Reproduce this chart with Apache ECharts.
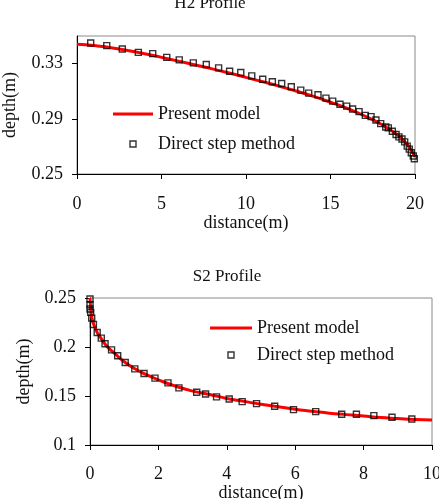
<!DOCTYPE html>
<html>
<head>
<meta charset="utf-8">
<script src="https://cdn.jsdelivr.net/npm/echarts@6/dist/echarts.min.js"></script>
<style>
html,body{margin:0;padding:0;background:#fff;}
#c{width:439px;height:499px;}
</style>
</head>
<body>
<div id="c"></div>
<script>
// ---- H2 profile data ----
const h2ModelX = [0, 1, 2, 3, 4, 5, 6, 7, 8, 9, 10, 11, 12, 13, 14, 15, 16, 17, 18, 19, 19.5, 20];
const h2ModelY = [0.344, 0.3432, 0.3415, 0.3395, 0.3372, 0.3345, 0.3318, 0.329, 0.3262, 0.3232, 0.32, 0.3168, 0.3135, 0.31, 0.3062, 0.302, 0.2975, 0.2922, 0.286, 0.278, 0.272, 0.2625];
const h2StepX = [0.81, 1.76, 2.68, 3.63, 4.48, 5.31, 6.05, 6.88, 7.65, 8.38, 9.03, 9.69, 10.34, 10.99, 11.56, 12.11, 12.68, 13.24, 13.71, 14.26, 14.73, 15.13, 15.56, 15.96, 16.31, 16.69, 17.06, 17.4, 17.69, 17.97, 18.27, 18.42, 18.66, 18.88, 19.05, 19.23, 19.39, 19.54, 19.66, 19.78, 19.9, 19.96];
const h2StepY = [0.3449, 0.343, 0.3406, 0.3381, 0.3372, 0.3345, 0.3327, 0.3305, 0.3293, 0.3269, 0.3245, 0.3235, 0.3211, 0.3187, 0.3168, 0.3156, 0.3132, 0.3108, 0.3086, 0.3074, 0.305, 0.3028, 0.3005, 0.2992, 0.2971, 0.2952, 0.2925, 0.2916, 0.2891, 0.2865, 0.2841, 0.2834, 0.281, 0.2786, 0.2769, 0.2754, 0.2733, 0.2702, 0.268, 0.2654, 0.263, 0.261];
const h2XTicks = [0, 5, 10, 15, 20];
const h2YTicks = [0.25, 0.29, 0.33];

// ---- S2 profile data ----
const s2ModelX = [0, 0.02, 0.05, 0.1, 0.2, 0.3, 0.45, 0.6, 0.8, 1.0, 1.3, 1.6, 2.0, 2.5, 3, 3.5, 4, 4.5, 5, 5.5, 6, 6.5, 7, 7.5, 8, 8.5, 9, 9.5, 10];
const s2ModelY = [0.25, 0.24, 0.231, 0.224, 0.2155, 0.21, 0.2025, 0.197, 0.191, 0.185, 0.178, 0.1725, 0.1665, 0.16, 0.155, 0.1515, 0.1475, 0.1445, 0.1415, 0.139, 0.1365, 0.1345, 0.1325, 0.131, 0.1295, 0.128, 0.127, 0.126, 0.1255];
const s2StepX = [0, 0, 0, 0.02, 0.05, 0.1, 0.21, 0.33, 0.44, 0.63, 0.81, 1.03, 1.31, 1.58, 1.9, 2.28, 2.6, 3.12, 3.38, 3.7, 4.07, 4.45, 4.87, 5.4, 5.95, 6.6, 7.36, 7.79, 8.3, 8.83, 9.41];
const s2StepY = [0.249, 0.2431, 0.2387, 0.2353, 0.2295, 0.223, 0.2148, 0.2091, 0.2033, 0.1971, 0.191, 0.1842, 0.1777, 0.1729, 0.1682, 0.1634, 0.1583, 0.1539, 0.1521, 0.1491, 0.147, 0.1443, 0.1422, 0.1396, 0.1361, 0.1341, 0.1314, 0.1314, 0.13, 0.1283, 0.1266];
const s2XTicks = [0, 2, 4, 6, 8, 10];
const s2YTicks = [0.1, 0.15, 0.2, 0.25];

const titles = ['H2 Profile', 'S2 Profile'];
const seriesNames = ['Present model', 'Direct step method'];

const zip = (xs, ys) => xs.map((x, i) => [x, ys[i]]);

const FONT = '"Liberation Serif", "Times New Roman", serif';
const TXT = '#111';
const RED = '#ff0000';
const FS = 18;

function xAxis(gridIndex, min, max, ticks, margin, nameGap) {
  return {
    type: 'value', gridIndex, min, max,
    name: 'distance(m)', nameLocation: 'middle', nameGap,
    nameTextStyle: { fontFamily: FONT, fontSize: FS, color: TXT },
    axisLine: { show: true, lineStyle: { color: '#000', width: 1 } },
    axisTick: { show: true, inside: false, length: 5, customValues: ticks, lineStyle: { color: '#000' } },
    axisLabel: { customValues: ticks, margin, fontFamily: FONT, fontSize: FS, color: TXT },
    splitLine: { show: false }
  };
}
function yAxis(gridIndex, min, max, ticks, margin, nameGap, fmt) {
  return {
    type: 'value', gridIndex, min, max,
    name: 'depth(m)', nameLocation: 'middle', nameGap,
    nameTextStyle: { fontFamily: FONT, fontSize: FS, color: TXT },
    axisLine: { show: true, lineStyle: { color: '#000', width: 1 } },
    axisTick: { show: true, inside: false, length: 5, customValues: ticks, lineStyle: { color: '#000' } },
    axisLabel: { customValues: ticks, margin, fontFamily: FONT, fontSize: FS, color: TXT, formatter: fmt },
    splitLine: { show: false }
  };
}

const lineSeries = (name, idx, data) => ({
  name, type: 'line', xAxisIndex: idx, yAxisIndex: idx, data,
  symbol: 'none', smooth: true, lineStyle: { color: RED, width: 3 }, itemStyle: { color: RED }, z: 2
});
const stepSeries = (name, idx, data) => ({
  name, type: 'scatter', xAxisIndex: idx, yAxisIndex: idx, data,
  symbol: 'rect', symbolSize: 6,
  itemStyle: { color: 'rgba(255,255,255,0)', borderColor: '#000', borderWidth: 1.4 }, z: 3
});

function legend(left, top, itemWidth, itemGap) {
  return {
    left, top, orient: 'vertical', itemWidth, itemHeight: 6, itemGap,
    textStyle: { fontFamily: FONT, fontSize: FS, color: TXT },
    selectedMode: false,
    data: [
      { name: seriesNames[0], icon: 'path://M0,0H40V3H0Z', itemStyle: { color: RED, borderWidth: 0 } },
      { name: seriesNames[1], icon: 'path://M0,0H10V10H0Z', itemStyle: { color: 'rgba(255,255,255,0)', borderColor: '#000', borderWidth: 1.4 } }
    ]
  };
}

const chart = echarts.init(document.getElementById('c'), null, { renderer: 'canvas' });
chart.setOption({
  animation: false,
  backgroundColor: '#fff',
  graphic: [
    { type: 'text', x: 210, y: 4, style: { text: titles[0], font: '17px ' + FONT, fill: TXT, align: 'center', verticalAlign: 'middle' } },
    { type: 'text', x: 227, y: 277, style: { text: titles[1], font: '17px ' + FONT, fill: TXT, align: 'center', verticalAlign: 'middle' } }
  ],
  grid: [
    { left: 77, top: 36, width: 338, height: 138, show: true, borderColor: '#8a8a8a', borderWidth: 1, backgroundColor: 'transparent', outerBoundsMode: 'none', containLabel: false },
    { left: 90, top: 298, width: 342, height: 147, show: true, borderColor: '#8a8a8a', borderWidth: 1, backgroundColor: 'transparent', outerBoundsMode: 'none', containLabel: false }
  ],
  xAxis: [
    xAxis(0, 0, 20, h2XTicks, 21, 32),
    xAxis(1, 0, 10, s2XTicks, 20, 30)
  ],
  yAxis: [
    yAxis(0, 0.25, 0.35, h2YTicks, 14, 58, v => v.toFixed(2)),
    yAxis(1, 0.1, 0.25, s2YTicks, 14, 57, v => String(+v.toFixed(2)))
  ],
  legend: [
    legend(108, 100, 40, 12),
    legend(205, 314, 42, 9)
  ],
  series: [
    lineSeries(seriesNames[0], 0, zip(h2ModelX, h2ModelY)),
    stepSeries(seriesNames[1], 0, zip(h2StepX, h2StepY)),
    lineSeries(seriesNames[0], 1, zip(s2ModelX, s2ModelY)),
    stepSeries(seriesNames[1], 1, zip(s2StepX, s2StepY))
  ]
});
</script>
</body>
</html>
